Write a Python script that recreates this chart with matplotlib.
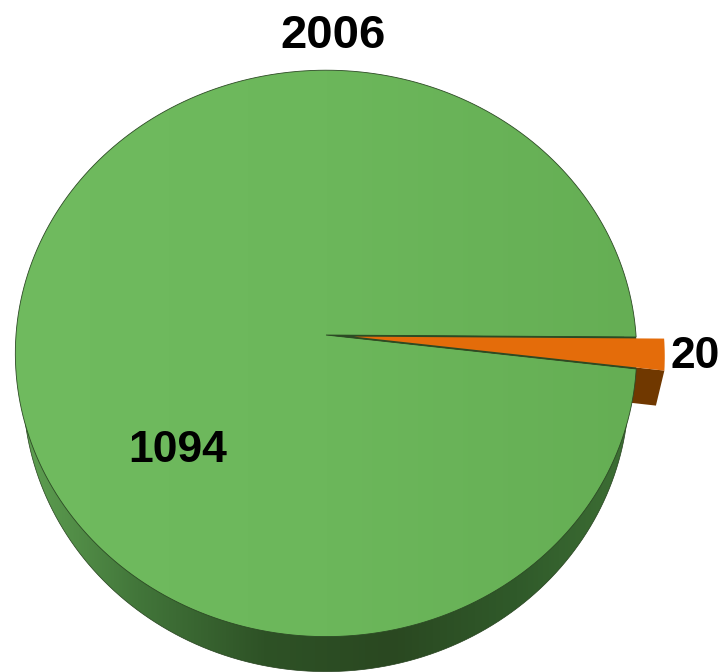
import numpy as np
import matplotlib
matplotlib.use('Agg')
import matplotlib.pyplot as plt
from matplotlib.colors import LinearSegmentedColormap
from matplotlib.patches import Polygon
from matplotlib.transforms import Affine2D

title = '2006'
values = [1094, 20]
labels = ['1094', '20']

top_green = ['#70bb5f', '#6cb75b', '#65ae54']
side_green = ['#62a554', '#42763a', '#2e5226', '#2a4821', '#305a2a', '#3f7236']
top_orange = '#e46c0a'
side_orange = '#703800'
gap_color = '#2c4a24'

fig = plt.figure(figsize=(7.22, 6.72), dpi=100)
ax = fig.add_axes([0, 0, 1, 1])

wedges, _ = ax.pie(values, startangle=-0.4, explode=[0, 0.09], radius=1)


def outline(wedge):
    # flatten the wedge so the perspective does not bend the curves wrongly
    scaled = wedge.get_path().to_polygons(Affine2D().scale(1000), closed_only=True)[0]
    return scaled / 1000


def project(pts, depth=0):
    # tilted disc: the near half is drawn bigger than the far half
    k = 0.065
    w = 1 + k * pts[:, 1]
    shrink = 1 - 0.025 * depth / 35
    x = 326 + 310 * shrink * pts[:, 0] / w
    y = 335 - 282 * pts[:, 1] / w + depth
    return np.column_stack([x, y])


def gradient(poly, colors, zorder):
    cmap = LinearSegmentedColormap.from_list('g', colors)
    img = ax.imshow(np.linspace(0, 1, 256)[None, :], cmap=cmap, aspect='auto',
                    extent=[10, 645, 672, 0], zorder=zorder)
    patch = Polygon(poly, closed=True, transform=ax.transData, fc='none', ec='none')
    ax.add_patch(patch)
    img.set_clip_path(patch)


green = outline(wedges[0])
orange = outline(wedges[1])
center = np.array(wedges[1].center)
notch = orange - center
low = orange[np.argmin(orange[:, 1])]
side = np.array([center, low])
for w in wedges:
    w.set_visible(False)

depth = 35
gradient(project(green, depth), side_green, 1)
ax.add_patch(Polygon(project(green, depth), closed=True, fc='none', ec='#24401c', lw=0.5, zorder=1.1))
# cut face of the slice, from its lower edge down
side_face = np.vstack([project(side), project(side, depth)[::-1]])
ax.add_patch(Polygon(side_face, closed=True, fc=side_orange, ec='none', zorder=1.5))
gradient(project(green), top_green, 2)
ax.add_patch(Polygon(project(green), closed=True, fc='none', ec=gap_color, lw=0.6, zorder=2.1))
# slot the slice came out of, seen as a dark line around it
ax.add_patch(Polygon(project(notch), closed=True, fc=gap_color, ec='none', zorder=2.5))
ax.add_patch(Polygon(project(orange), closed=True, fc=top_orange, ec='none', zorder=3))

ax.text(333, 36, title, fontsize=34, fontweight='bold', family='Liberation Sans',
        ha='center', va='center', color='black', zorder=5)
ax.text(178, 451, labels[0], fontsize=32, fontweight='bold', family='Liberation Sans',
        ha='center', va='center', color='black', zorder=5)
ax.text(695, 357, labels[1], fontsize=32, fontweight='bold', family='Liberation Sans',
        ha='center', va='center', color='black', zorder=5)

ax.set_xlim(0, 722)
ax.set_ylim(672, 0)
ax.set_aspect('auto')
ax.axis('off')

fig.savefig('out.png', dpi=100)
